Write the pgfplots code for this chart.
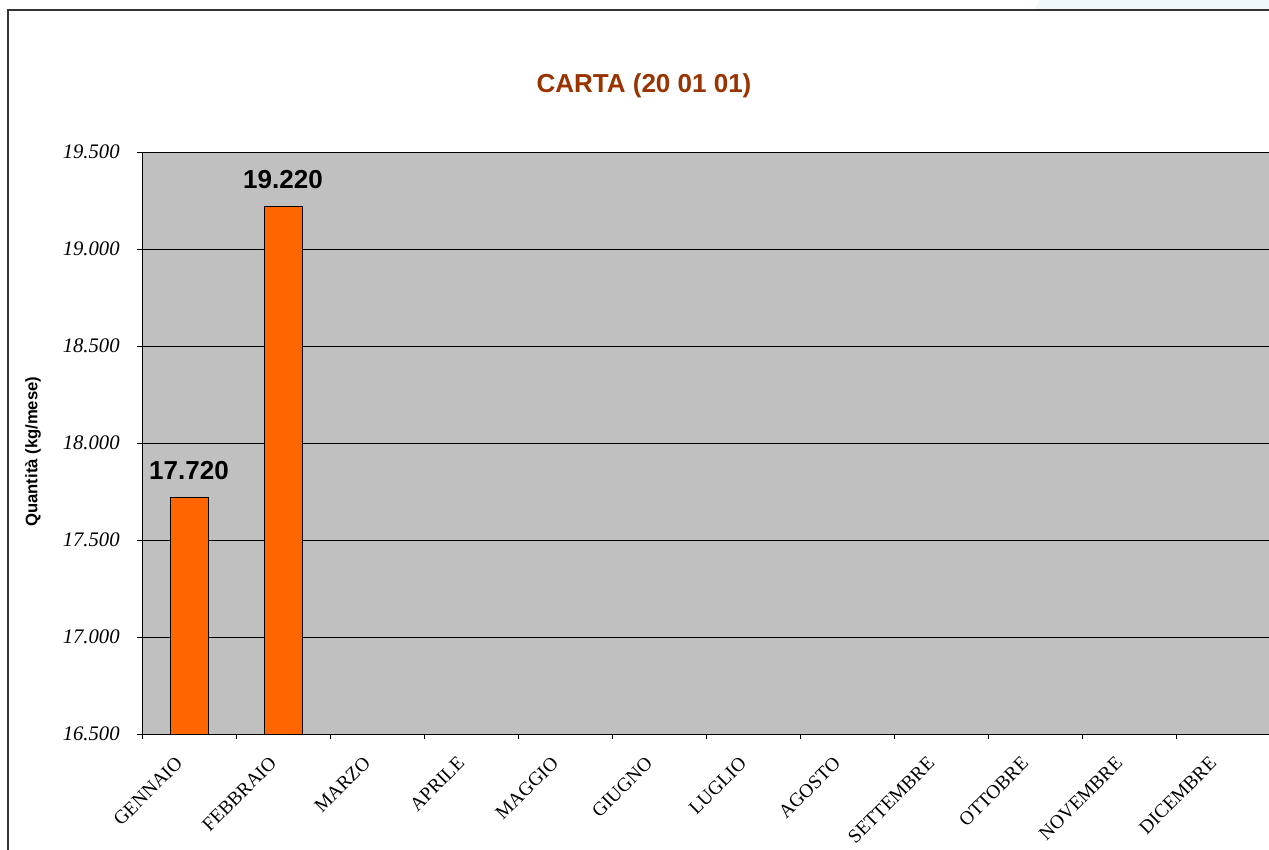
\documentclass[border=0pt]{standalone}
\usepackage{pgfplots}
\pgfplotsset{compat=1.18}
\usepackage{fontspec}
\setmainfont{Liberation Sans}
\newfontfamily\tickfont{Liberation Serif}

\definecolor{plotgray}{HTML}{C0C0C0}
\definecolor{barorange}{HTML}{FF6600}
\definecolor{titlebrown}{HTML}{993300}
\definecolor{framegray}{HTML}{333333}
\definecolor{paleblue}{HTML}{F0F8FC}

\begin{document}
\begin{tikzpicture}
\useasboundingbox (0,0) rectangle (951.75pt,-636.75pt);
\clip (0,0) rectangle (951.75pt,-636.75pt);
\fill[white] (0,0) rectangle (951.75pt,-636.75pt);
% frame and title, in pixels of the reference
\begin{scope}[x=0.75pt,y=-0.75pt]
  \fill[paleblue] (1040,0) -- (1269,0) -- (1269,10) -- (1034,10) -- cycle;
  \draw[framegray, line width=1.5pt] (8,1000) -- (8,10.5) -- (1300,10.5);
  \node[font=\bfseries\fontsize{19.5}{22}\selectfont, text=titlebrown] at (644,86) {CARTA (20 01 01)};
\end{scope}

\begin{axis}[
  at={(106.5pt,-550.5pt)}, anchor=south west,
  scale only axis, width=846pt, height=436.5pt,
  ybar, bar width=28.5pt,
  xmin=-0.5, xmax=11.5, ymin=16500, ymax=19500,
  enlarge x limits=false,
  axis background/.style={fill=plotgray},
  axis x line*=bottom, axis y line*=left,
  axis line style={black, line width=0.75pt},
  tick align=outside,
  major tick length=3.75pt, minor tick length=3.75pt,
  tick style={black, line width=0.75pt},
  xtick={0,...,11},
  major x tick style={draw=none},
  minor xtick={-0.5,0.5,...,11.5},
  xticklabels={GENNAIO,FEBBRAIO,MARZO,APRILE,MAGGIO,GIUGNO,LUGLIO,AGOSTO,SETTEMBRE,OTTOBRE,NOVEMBRE,DICEMBRE},
  xticklabel style={rotate=45, anchor=north east, xshift=-13pt, yshift=2.5pt,
    font=\tickfont\fontsize{14.5}{16}\selectfont},
  ytick={16500,17000,...,19000},
  extra y ticks={19500},
  extra y tick style={grid style={draw=gray, line width=0.75pt}},
  scaled y ticks=false,
  ymajorgrids,
  major grid style={black, line width=0.75pt},
  yticklabel style={font=\tickfont\itshape\fontsize{15.5}{17}\selectfont, xshift=-9.5pt},
  /pgf/number format/.cd, fixed, precision=0, 1000 sep={.}, assume math mode=true, /pgfplots/.cd,
  ylabel={Quantità (kg/mese)},
  ylabel style={at={(axis description cs:-0.0966,0.485)}, anchor=center, rotate=0,
    font=\bfseries\fontsize{12.5}{14}\selectfont},
  nodes near coords,
  nodes near coords style={font=\bfseries\fontsize{19.5}{22}\selectfont, anchor=south,
    inner ysep=1pt, yshift=12pt, black},
]
\addplot[fill=barorange, draw=black, line width=0.6pt] coordinates {(0,17720) (1,19220)};
\end{axis}
\end{tikzpicture}
\end{document}
